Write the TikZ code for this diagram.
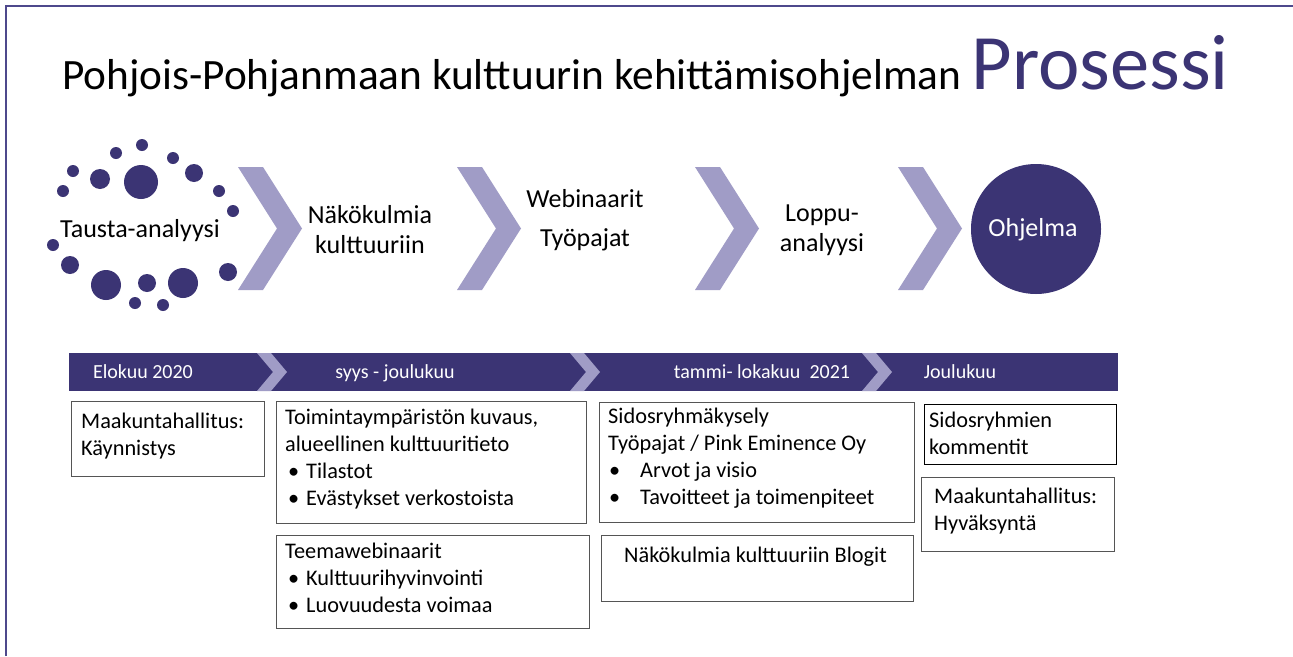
\documentclass[tikz,border=0pt]{standalone}
\usepackage{fontspec}
\setmainfont{Carlito}
\definecolor{navy}{RGB}{59,52,116}
\definecolor{lav}{RGB}{160,156,198}
\definecolor{framec}{RGB}{78,72,140}
\definecolor{boxline}{RGB}{85,85,85}
\begin{document}
\begin{tikzpicture}[x=1pt,y=-1pt,
  dot/.style={circle, fill=navy, inner sep=0pt, minimum size=#1},
  lbl/.style={anchor=north, inner sep=0pt, align=center, font=\fontsize{26}{30}\selectfont, execute at begin node=\strut},
  bartxt/.style={anchor=base, inner sep=0pt, text=white, font=\fontsize{20}{24}\selectfont},
  boxframe/.style={draw=boxline, line width=1.2pt, anchor=north west, inner sep=0pt},
  boxtxt/.style={anchor=north west, inner sep=0pt, align=left, font=\fontsize{22.3}{27}\selectfont, execute at begin node=\strut},
  pics/chev/.style args={#1/#2/#3}{code={
    \fill[lav] (0,0) -- (#1,0) -- ({#1+#2},{#3/2}) -- (#1,#3) -- (0,#3) -- (#2,{#3/2}) -- cycle;}}
]
\useasboundingbox (0,0) rectangle (1293,656);
\fill[white] (0,0) rectangle (1293,656);
% frame
\draw[framec, line width=2pt] (6,656) -- (6,6) -- (1293,6);
% title
\node[anchor=base west, inner sep=0pt, font=\fontsize{43.3}{50}\selectfont] (title) at (62,89)
  {Pohjois-Pohjanmaan kulttuurin kehittämisohjelman \textcolor{navy}{\fontsize{78.5}{82}\selectfont Prosessi}};
% dot cluster
\foreach \x/\y/\s [count=\i] in {142/145/12,116/153/12,173/158/12,73/171/12,100/179/20,141/182/34,194/173/18,63/191/12,219/191/12,233/211/12,53/245/12,70/265/18,106/285/30,147/283/18,183/283/30,228/272/18,135/303/12,163/305/12}
  \node[dot=\s] (d\i) at (\x,\y) {};
% big chevrons
\pic (c1) at (238,167) {chev=25/39/123};
\pic (c2) at (457,167) {chev=25/39/123};
\pic (c3) at (695,167) {chev=25/39/123};
\pic (c4) at (898,167) {chev=25/39/123};
% labels
\node[lbl] (taus) at (140,216) {Tausta-analyysi};
\node[lbl] (nako) at (370,205) {Näkökulmia\\kulttuuriin};
\node[lbl, font=\fontsize{26}{39}\selectfont] (webi) at (585,189.7) {Webinaarit\\Työpajat};
\node[lbl] (lopp) at (822,205) {Loppu-\\analyysi};
\node[circle, fill=navy, inner sep=0pt, minimum size=130] (ohjc) at (1036,229) {};
\node[anchor=base, inner sep=0pt, text=white, font=\fontsize{26}{30}\selectfont] (ohj) at (1033,236) {Ohjelma};
% timeline bar
\node[fill=navy, anchor=north west, inner sep=0pt, minimum width=1049, minimum height=38] (bar) at (69,353) {};
\pic (bc1) at (257,353) {chev=14/16/38};
\pic (bc2) at (570,353) {chev=14/16/38};
\pic (bc3) at (862,353) {chev=14/16/38};
\node[bartxt] (t1) at (143,378) {Elokuu 2020};
\node[bartxt] (t2) at (395,378) {syys - joulukuu};
\node[bartxt] (t3) at (762,378) {tammi- lokakuu~ 2021};
\node[bartxt] (t4) at (960,378) {Joulukuu};
% boxes
\node[boxframe, minimum width=193, minimum height=75] (b1) at (71,401) {};
\node[boxframe, minimum width=310, minimum height=122] (b2) at (276,401) {};
\node[boxframe, minimum width=313, minimum height=93] (b2b) at (276,535) {};
\node[boxframe, minimum width=315, minimum height=120] (b3) at (599,402) {};
\node[boxframe, minimum width=312, minimum height=66] (b3b) at (601,535) {};
\node[boxframe, draw=black, minimum width=192, minimum height=60] (b4) at (924,404) {};
\node[boxframe, minimum width=193, minimum height=74] (b4b) at (921,477) {};
% box texts
\node[boxtxt] (x1) at (81,413.1) {Maakuntahallitus:\\Käynnistys};
\node[boxtxt] (x2) at (285,409.1) {Toimintaympäristön kuvaus,\\alueellinen kulttuuritieto\\\makebox[21pt][l]{\hspace*{3pt}\textbullet}Tilastot\\\makebox[21pt][l]{\hspace*{3pt}\textbullet}Evästykset verkostoista};
\node[boxtxt] (x2b) at (285,543.1) {Teemawebinaarit\\\makebox[21pt][l]{\hspace*{3pt}\textbullet}Kulttuurihyvinvointi\\\makebox[21pt][l]{\hspace*{3pt}\textbullet}Luovuudesta voimaa};
\node[boxtxt] (x3) at (608,408.1) {Sidosryhmäkysely\\Työpajat / Pink Eminence Oy\\\makebox[32pt][l]{\hspace*{1pt}\textbullet}Arvot ja visio\\\makebox[32pt][l]{\hspace*{1pt}\textbullet}Tavoitteet ja toimenpiteet};
\node[boxtxt] (x3b) at (624,543.1) {Näkökulmia kulttuuriin Blogit};
\node[boxtxt] (x4) at (929,412.1) {Sidosryhmien\\kommentit};
\node[boxtxt] (x4b) at (934,488.1) {Maakuntahallitus:\\Hyväksyntä};
\end{tikzpicture}
\end{document}
